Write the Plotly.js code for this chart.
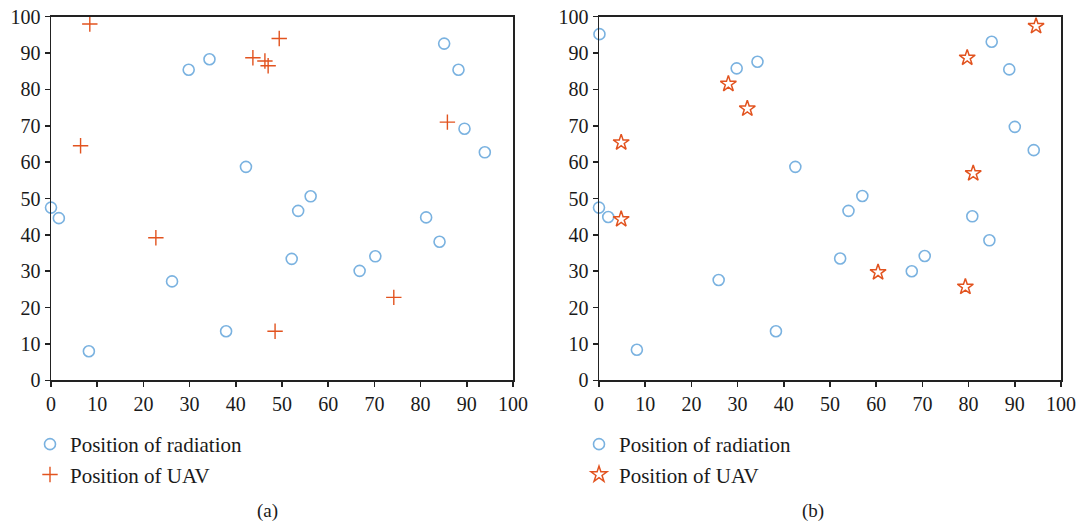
<!DOCTYPE html>
<html>
<head>
<meta charset="utf-8">
<script src="https://cdn.plot.ly/plotly-3.0.1.min.js"></script>
<style>html,body{margin:0;padding:0;background:#fff;}#chart{width:1080px;height:526px;}</style>
</head>
<body>
<div id="chart"></div>
<script>
// Panel (a) data
const radAX = [0.0, 1.7, 8.2, 26.2, 29.8, 34.3, 37.9, 42.2, 52.1, 53.5, 56.2, 66.8, 70.2, 81.2, 84.1, 85.1, 88.2, 89.5, 93.9];
const radAY = [47.5, 44.6, 8.0, 27.2, 85.4, 88.3, 13.5, 58.7, 33.4, 46.6, 50.6, 30.1, 34.1, 44.8, 38.1, 92.6, 85.4, 69.2, 62.7];
const uavAX = [8.4, 6.4, 22.7, 43.7, 46.3, 47.0, 49.4, 48.5, 74.2, 85.8];
const uavAY = [98.0, 64.5, 39.2, 88.7, 87.8, 86.5, 94.0, 13.5, 22.8, 71.0];
// Panel (b) data
const radBX = [0.1, 0.0, 2.0, 8.2, 25.9, 29.8, 34.3, 38.3, 42.5, 52.2, 54.0, 57.0, 67.7, 70.5, 80.8, 84.5, 85.0, 88.8, 90.0, 94.1];
const radBY = [95.2, 47.5, 44.9, 8.4, 27.6, 85.8, 87.6, 13.5, 58.7, 33.5, 46.6, 50.7, 30.0, 34.2, 45.1, 38.5, 93.1, 85.5, 69.7, 63.3];
const uavBX = [4.8, 4.8, 28.0, 32.1, 60.4, 79.3, 79.7, 81.0, 94.6];
const uavBY = [65.4, 44.3, 81.5, 74.7, 29.7, 25.7, 88.7, 56.9, 97.4];
const tickVals = [0, 10, 20, 30, 40, 50, 60, 70, 80, 90, 100];
const radLabel = "Position of radiation";
const uavLabel = "Position of UAV";
const panelLabels = ["(a)", "(b)"];

const blue = "#7ab2e0";
const orange = "#e2531f";
const FONT = "Liberation Serif, DejaVu Serif, serif";

const traces = [
  {x: radAX, y: radAY, xaxis: "x", yaxis: "y", mode: "markers", type: "scatter", name: radLabel, legend: "legend", cliponaxis: false,
   marker: {symbol: "circle-open", size: 11, color: blue, line: {width: 1.6, color: blue}}},
  {x: uavAX, y: uavAY, xaxis: "x", yaxis: "y", mode: "markers", type: "scatter", name: uavLabel, legend: "legend", cliponaxis: false,
   marker: {symbol: "cross-thin-open", size: 11, color: orange, line: {width: 1.4, color: orange}}},
  {x: radBX, y: radBY, xaxis: "x2", yaxis: "y2", mode: "markers", type: "scatter", name: radLabel, legend: "legend2", cliponaxis: false,
   marker: {symbol: "circle-open", size: 11, color: blue, line: {width: 1.6, color: blue}}},
  {x: uavBX, y: uavBY, xaxis: "x2", yaxis: "y2", mode: "markers", type: "scatter", name: uavLabel, legend: "legend2", cliponaxis: false,
   marker: {symbol: "star-open", size: 12, color: orange, line: {width: 1.5, color: orange}}}
];

function ax(extra) {
  return Object.assign({
    range: [0, 100], tickvals: tickVals, ticktext: tickVals.map(String),
    showline: true, mirror: true, linecolor: "#222", linewidth: 1.5,
    ticks: "outside", ticklen: 5, tickwidth: 1.5, tickcolor: "#222",
    showgrid: false, zeroline: false,
    tickfont: {family: FONT, size: 20, color: "#1a1a1a"}
  }, extra);
}

const yDom = [1 - 380.3 / 526, 1 - 16.7 / 526];
const layout = {
  width: 1080, height: 526,
  margin: {l: 0, r: 0, t: 0, b: 0},
  paper_bgcolor: "#fff", plot_bgcolor: "#fff",
  font: {family: FONT, color: "#1a1a1a"},
  showlegend: true,
  xaxis: ax({domain: [51 / 1080, 513 / 1080], anchor: "y"}),
  yaxis: ax({domain: yDom, anchor: "x"}),
  xaxis2: ax({domain: [599 / 1080, 1061 / 1080], anchor: "y2"}),
  yaxis2: ax({domain: yDom, anchor: "x2"}),
  legend: {x: 30 / 1080, y: 1 - 424 / 526, xanchor: "left", yanchor: "top", bgcolor: "rgba(0,0,0,0)",
           font: {family: FONT, size: 21, color: "#1a1a1a"}, tracegroupgap: 0},
  legend2: {x: 579 / 1080, y: 1 - 424 / 526, xanchor: "left", yanchor: "top", bgcolor: "rgba(0,0,0,0)",
           font: {family: FONT, size: 21, color: "#1a1a1a"}, tracegroupgap: 0},
  annotations: [
    {text: panelLabels[0], x: 267 / 1080, y: 1 - 511 / 526, xref: "paper", yref: "paper", showarrow: false,
     xanchor: "center", yanchor: "middle", font: {family: FONT, size: 19, color: "#1a1a1a"}},
    {text: panelLabels[1], x: 813 / 1080, y: 1 - 511 / 526, xref: "paper", yref: "paper", showarrow: false,
     xanchor: "center", yanchor: "middle", font: {family: FONT, size: 19, color: "#1a1a1a"}}
  ]
};

Plotly.newPlot("chart", traces, layout, {displayModeBar: false, staticPlot: true});
</script>
</body>
</html>
